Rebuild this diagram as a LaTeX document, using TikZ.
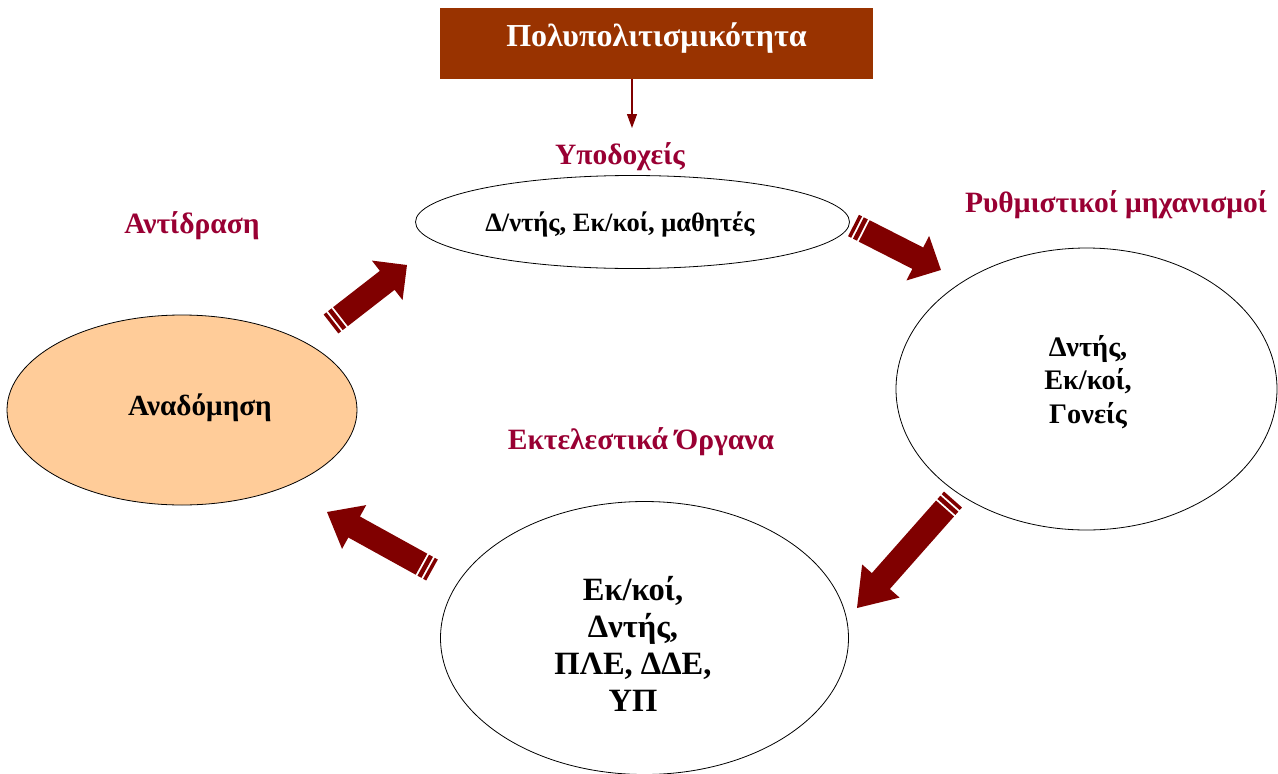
\documentclass[tikz,border=0pt]{standalone}
\usepackage{fontspec}
\setmainfont{Liberation Serif}
\usetikzlibrary{shapes.geometric,calc,arrows.meta}

\definecolor{titlebrown}{RGB}{153,51,0}
\definecolor{labelred}{RGB}{153,0,51}
\definecolor{arrowred}{RGB}{128,0,0}
\definecolor{peach}{RGB}{255,204,153}

% striped block arrow from a tail coordinate to a tip coordinate
\newcommand\stripedarrow[3]{%
  \path let \p1=(#1), \p2=(#2),
        \n1={atan2(\y2-\y1,\x2-\x1)},
        \n2={veclen(\x2-\x1,\y2-\y1)} in
        \pgfextra{\xdef\sarang{\n1}\xdef\sarlen{\n2}};
  \begin{scope}[shift={(#1)}, rotate=\sarang]
    \fill[arrowred] (0pt,-12pt) rectangle (3.5pt,12pt);
    \fill[arrowred] (5.5pt,-12pt) rectangle (10pt,12pt);
    \fill[arrowred] (12pt,-12pt) -- ({\sarlen-#3pt},-12pt) -- ({\sarlen-#3pt},-25pt)
      -- (\sarlen,0pt) -- ({\sarlen-#3pt},25pt) -- ({\sarlen-#3pt},12pt)
      -- (12pt,12pt) -- cycle;
  \end{scope}}

\begin{document}
\begin{tikzpicture}[x=1pt,y=-1pt,
  titlebox/.style={fill=titlebrown, minimum width=433pt, minimum height=71pt, inner sep=0pt},
  titletext/.style={text=white, font=\bfseries\fontsize{32}{36}\selectfont, inner sep=0pt},
  redlabel/.style={text=labelred, font=\bfseries\fontsize{29.5}{34}\selectfont, inner sep=0pt},
  oval/.style={ellipse, draw=black, line width=0.8pt, inner sep=0pt},
  ovaltext/.style 2 args={align=center, inner sep=0pt, font=\bfseries\fontsize{#1}{#2}\selectfont},
]
\useasboundingbox (0,0) rectangle (1278,774);

% title and its pointer
\node[titlebox] (title) at (656.5,43.5) {};
\node[titletext] (titlelbl) at (656.5,38) {Πολυπολιτισμικότητα};
\coordinate (pointend) at (632,128);
\draw[arrowred, line width=1.2pt, -{Triangle[length=14pt,width=10pt]}]
  (title.south -| pointend) -- (pointend);

% headings
\node[redlabel] (lblrecv) at (620,157) {Υποδοχείς};
\node[redlabel] (lblreact) at (192,226) {Αντίδραση};
\node[redlabel] (lblreg) at (1116,205) {Ρυθμιστικοί μηχανισμοί};
\node[redlabel] (lblexec) at (641,442) {Εκτελεστικά Όργανα};

% ovals
\node[oval, minimum width=434pt, minimum height=93pt] (recv) at (632.5,222) {};
\node[oval, minimum width=381pt, minimum height=282pt] (reg) at (1086.5,389) {};
\node[oval, minimum width=408pt, minimum height=273pt] (exec) at (644.5,638) {};
\node[oval, fill=peach, minimum width=350pt, minimum height=190pt] (rebuild) at (182,410) {};

% oval contents
\node[ovaltext={26.5}{30}] (recvtext) at (620,224) {Δ/ντής, Εκ/κοί, μαθητές};
\node[ovaltext={28.3}{33.5}] (regtext) at (1088,382)
  {Δντής,\\ Εκ/κοί,\\ Γονείς};
\node[ovaltext={32.5}{37}] (exectext) at (633,644)
  {Εκ/κοί,\\ Δντής,\\ ΠΛΕ, ΔΔΕ,\\ ΥΠ};
\node[ovaltext={29.2}{33}] (rebuildtext) at (200,408) {Αναδόμηση};

% block arrows between the ovals
\coordinate (a1t) at (331,324);  \coordinate (a1h) at (407,265);
\coordinate (a2t) at (853.5,225.5); \coordinate (a2h) at (941,270);
\coordinate (a3t) at (953,499.5); \coordinate (a3h) at (857,608);
\coordinate (a4t) at (432,570);  \coordinate (a4h) at (327,512);
\stripedarrow{a1t}{a1h}{25}
\stripedarrow{a2t}{a2h}{26}
\stripedarrow{a3t}{a3h}{36}
\stripedarrow{a4t}{a4h}{31}
\end{tikzpicture}
\end{document}
